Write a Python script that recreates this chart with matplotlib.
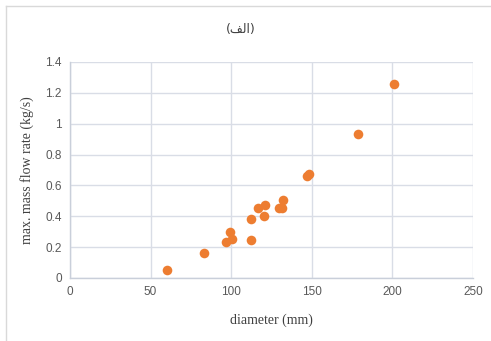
import matplotlib
matplotlib.use("Agg")
import matplotlib.pyplot as plt
from matplotlib.lines import Line2D

diameter = [60.0, 83.1, 97.0, 100.3, 99.0, 112.0, 112.0, 116.8, 121.0, 120.1,
            129.7, 131.7, 131.9, 146.8, 148.5, 178.7, 200.8]
flow = [0.052, 0.16, 0.233, 0.253, 0.30, 0.244, 0.385, 0.454, 0.473, 0.40,
        0.454, 0.454, 0.503, 0.663, 0.674, 0.931, 1.255]
xticks = [0, 50, 100, 150, 200, 250]
yticks = [0, 0.2, 0.4, 0.6, 0.8, 1, 1.2, 1.4]
yticklabels = ["0", "0.2", "0.4", "0.6", "0.8", "1", "1.2", "1.4"]

W, H = 491, 341
fig = plt.figure(figsize=(W / 100, H / 100), dpi=100)
ax = fig.add_axes([70 / W, 1 - 278 / H, 403 / W, 216 / H])

ax.scatter(diameter, flow, s=48, color="#ED7D31", zorder=3, linewidths=0)
ax.set_xlim(0, 250)
ax.set_ylim(0, 1.4)
ax.set_xticks(xticks)
ax.set_yticks(yticks)
ax.set_yticklabels(yticklabels)
ax.grid(True, color="#D9DDE6", linewidth=1.0)
ax.set_axisbelow(True)
for s in ["top", "right"]:
    ax.spines[s].set_visible(False)
for s in ["left", "bottom"]:
    ax.spines[s].set_color("#C9CFDA")
    ax.spines[s].set_linewidth(1.0)
ax.tick_params(length=0, labelsize=8.5, colors="#595959", pad=6)
for lbl in ax.get_xticklabels() + ax.get_yticklabels():
    lbl.set_family("Liberation Sans")

ax.set_xlabel("diameter (mm)", family="Liberation Serif", fontsize=10, color="#404040", labelpad=11)
ax.set_ylabel("max. mass flow rate (kg/s)", family="Liberation Serif", fontsize=10, color="#404040", labelpad=8)

title = "(\uFED2\uFEDF\uFE8D)"
fig.text(241 / W, 1 - 30 / H, title, ha="center", va="center", fontsize=9,
         family=["DejaVu Sans"], color="#404040")

fig.add_artist(Line2D([6 / W, 1], [1 - 6 / H, 1 - 6 / H], transform=fig.transFigure, color="#D9D9D9", lw=1))
fig.add_artist(Line2D([6 / W, 6 / W], [0, 1 - 6 / H], transform=fig.transFigure, color="#D9D9D9", lw=1))

fig.savefig("out.png", dpi=100)
